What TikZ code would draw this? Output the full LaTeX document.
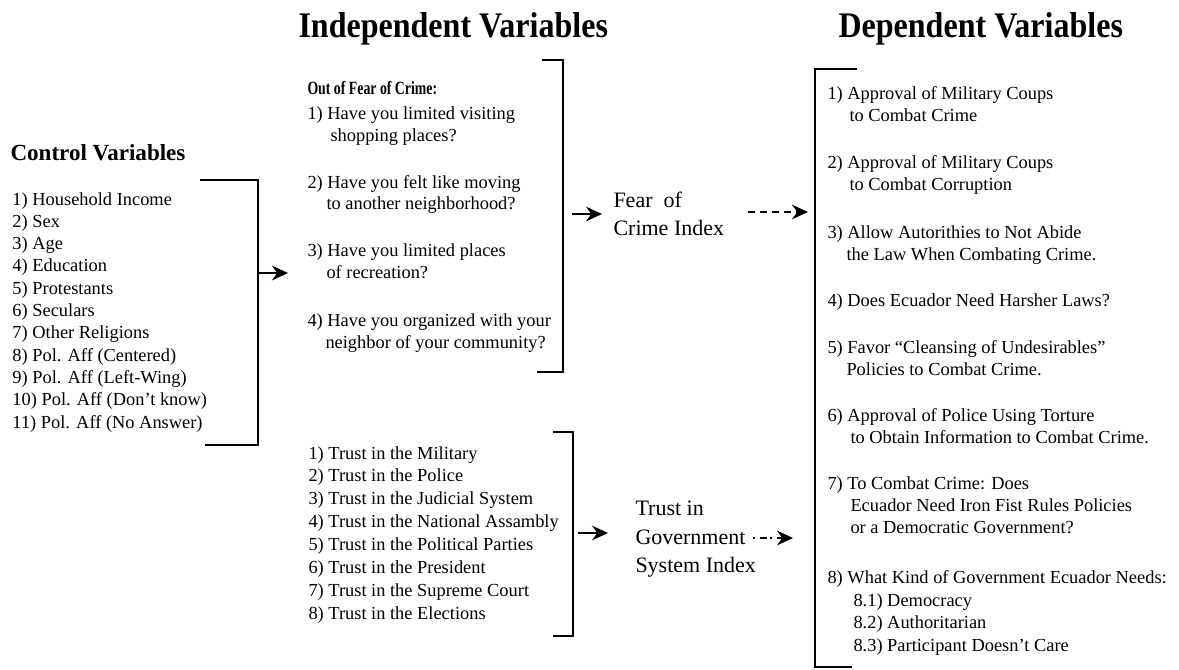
\documentclass[tikz,border=0pt]{standalone}
\usepackage{fontspec}
\setmainfont{Liberation Serif}
\usepackage{graphicx}
\usetikzlibrary{arrows.meta}

\tikzset{every picture/.style={line width=0.75pt}}
\tikzset{
  txt/.style={anchor=base west, inner sep=0pt, font=\fontsize{13.8}{16}\selectfont},
  idxtxt/.style={anchor=base west, inner sep=0pt, font=\fontsize{16.5}{19}\selectfont},
  tophead/.style={anchor=base west, inner sep=0pt, font=\fontsize{27}{30}\selectfont\bfseries},
  ctrlhead/.style={anchor=base west, inner sep=0pt, font=\fontsize{17.3}{20}\selectfont\bfseries},
  brk/.style={line width=1.8pt},
  arr/.style={line width=1.4pt, -{Stealth[length=12pt, width=11pt, inset=4pt]}},
  darr/.style={arr, dash pattern=on 5pt off 4pt},
}

\begin{document}
\begin{tikzpicture}[x=0.75pt,y=0.75pt,yscale=-1,xscale=1]
%set diagram left start at 0, and has height of 669
\path[use as bounding box] (0,0) rectangle (1179,669);

% Text Node
\draw (298,37) node [tophead] (indhead) {\scalebox{0.89}[1]{Independent Variables}};
% Text Node
\draw (838,37) node [tophead] (dephead) {\scalebox{0.89}[1]{Dependent Variables}};
% Text Node
\draw (10,160) node [ctrlhead] (ctrlhead) {Control Variables};

% Text Node
\draw (12,205) node [txt] (ctrla) {1) Household Income};
% Text Node
\draw (12,227.3) node [txt] (ctrlb) {2) Sex};
% Text Node
\draw (12,249.6) node [txt] (ctrlc) {3) Age};
% Text Node
\draw (12,271.9) node [txt] (ctrld) {4) Education};
% Text Node
\draw (12,294.2) node [txt] (ctrle) {5) Protestants};
% Text Node
\draw (12,316.5) node [txt] (ctrlf) {6) Seculars};
% Text Node
\draw (12,338.8) node [txt] (ctrlg) {7) Other Religions};
% Text Node
\draw (12,361.1) node [txt] (ctrlh) {8) Pol. Aff (Centered)};
% Text Node
\draw (12,383.4) node [txt] (ctrli) {9) Pol. Aff (Left-Wing)};
% Text Node
\draw (12,405.7) node [txt] (ctrlj) {10) Pol. Aff (Don't know)};
% Text Node
\draw (12,428) node [txt] (ctrlk) {11) Pol. Aff (No Answer)};

% Text Node
\draw (307,94) node [txt, font=\fontsize{14}{16}\selectfont\bfseries] (fearhead) {\scalebox{0.74}[1]{Out of Fear of Crime:}};
% Text Node
\draw (307,119) node [txt] (feara) {1) Have you limited visiting};
% Text Node
\draw (330,141) node [txt] (fearaa) {shopping places?};
% Text Node
\draw (307,188) node [txt] (fearb) {2) Have you felt like moving};
% Text Node
\draw (326,209) node [txt] (fearbb) {to another neighborhood?};
% Text Node
\draw (307,256) node [txt] (fearc) {3) Have you limited places};
% Text Node
\draw (326,278) node [txt] (fearcc) {of recreation?};
% Text Node
\draw (307,326) node [txt] (feard) {4) Have you organized with your};
% Text Node
\draw (325,348) node [txt] (feardd) {neighbor of your community?};

% Text Node
\draw (308,459) node [txt] (trusta) {1) Trust in the Military};
% Text Node
\draw (308,481.9) node [txt] (trustb) {2) Trust in the Police};
% Text Node
\draw (308,504.7) node [txt] (trustc) {3) Trust in the Judicial System};
% Text Node
\draw (308,527.6) node [txt] (trustd) {4) Trust in the National Assambly};
% Text Node
\draw (308,550.4) node [txt] (truste) {5) Trust in the Political Parties};
% Text Node
\draw (308,573.3) node [txt] (trustf) {6) Trust in the President};
% Text Node
\draw (308,596.1) node [txt] (trustg) {7) Trust in the Supreme Court};
% Text Node
\draw (308,619) node [txt] (trusth) {8) Trust in the Elections};

% Text Node
\draw (613,207) node [idxtxt] (fearidx) {Fear\ \ of};
% Text Node
\draw (613,235) node [idxtxt] (fearidxb) {Crime Index};
% Text Node
\draw (635,515) node [idxtxt] (trustidx) {Trust in};
% Text Node
\draw (635,544) node [idxtxt] (trustidxb) {Government};
% Text Node
\draw (635,572) node [idxtxt] (trustidxc) {System Index};

% Text Node
\draw (827,99) node [txt] (depa) {1) Approval of Military Coups};
% Text Node
\draw (849,121) node [txt] (depaa) {to Combat Crime};
% Text Node
\draw (827,168) node [txt] (depb) {2) Approval of Military Coups};
% Text Node
\draw (849,190) node [txt] (depbb) {to Combat Corruption};
% Text Node
\draw (827,238) node [txt] (depc) {3) Allow Autorithies to Not Abide};
% Text Node
\draw (846,260) node [txt] (depcc) {the Law When Combating Crime.};
% Text Node
\draw (827,306) node [txt] (depd) {4) Does Ecuador Need Harsher Laws?};
% Text Node
\draw (827,353) node [txt] (depe) {5) Favor ``Cleansing of Undesirables''};
% Text Node
\draw (846,375) node [txt] (depee) {Policies to Combat Crime.};
% Text Node
\draw (827,421) node [txt] (depf) {6) Approval of Police Using Torture};
% Text Node
\draw (850,443) node [txt] (depff) {to Obtain Information to Combat Crime.};
% Text Node
\draw (827,489) node [txt] (depg) {7) To Combat Crime: Does};
% Text Node
\draw (850,511) node [txt] (depgg) {Ecuador Need Iron Fist Rules Policies};
% Text Node
\draw (850,533) node [txt] (depggg) {or a Democratic Government?};
% Text Node
\draw (827,583) node [txt] (deph) {8) What Kind of Government Ecuador Needs:};
% Text Node
\draw (853,606) node [txt] (dephone) {8.1) Democracy};
% Text Node
\draw (853,628) node [txt] (dephtwo) {8.2) Authoritarian};
% Text Node
\draw (853,651) node [txt] (dephthree) {8.3) Participant Doesn't Care};

% Bracket corners
\coordinate (ctrltop) at (200,180);
\coordinate (ctrltr) at (258,180);
\coordinate (ctrlbr) at (258,445);
\coordinate (ctrlbot) at (205,445);
\coordinate (feartop) at (542,60);
\coordinate (feartr) at (563,60);
\coordinate (fearbr) at (563,372);
\coordinate (fearbot) at (537,372);
\coordinate (trusttop) at (553,432);
\coordinate (trusttr) at (573,432);
\coordinate (trustbr) at (573,636);
\coordinate (trustbot) at (553,636);
\coordinate (deptop) at (857,69);
\coordinate (deptl) at (815,69);
\coordinate (depbl) at (815,667);
\coordinate (depbot) at (852,667);

%Straight Lines [id:brackets]
\draw [brk] (ctrltop) -- (ctrltr) -- (ctrlbr) -- (ctrlbot) ;
\draw [brk] (feartop) -- (feartr) -- (fearbr) -- (fearbot) ;
\draw [brk] (trusttop) -- (trusttr) -- (trustbr) -- (trustbot) ;
\draw [brk] (deptop) -- (deptl) -- (depbl) -- (depbot) ;

% Arrow ends
\coordinate (ctrlout) at (258,273);
\coordinate (ctrlin) at (288,273);
\coordinate (fearout) at (572,214);
\coordinate (fearin) at (602,214);
\coordinate (fearidxout) at (748,212);
\coordinate (fearidxin) at (808,212);
\coordinate (trustout) at (578,533);
\coordinate (trustin) at (608,533);
\coordinate (trustidxout) at (753,538);
\coordinate (trustidxin) at (793,538);

%Straight Lines [id:arrows]
\draw [arr] (ctrlout) -- (ctrlin) ;
\draw [arr] (fearout) -- (fearin) ;
\draw [darr] (fearidxout) -- (fearidxin) ;
\draw [arr] (trustout) -- (trustin) ;
\draw [arr, dash pattern=on 1.5pt off 4pt on 5pt off 2pt] (trustidxout) -- (trustidxin) ;

\end{tikzpicture}
\end{document}
